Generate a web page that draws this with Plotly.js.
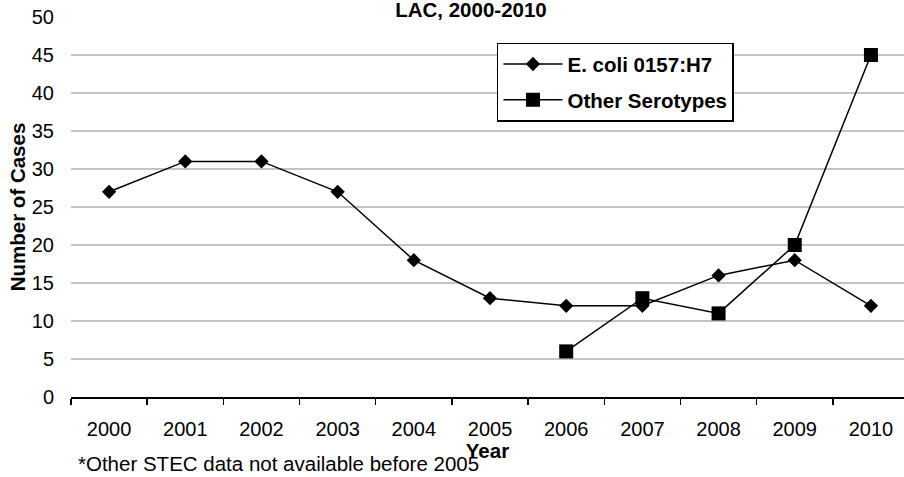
<!DOCTYPE html>
<html>
<head>
<meta charset="utf-8">
<script src="https://cdn.plot.ly/plotly-3.0.1.min.js"></script>
<style>html,body{margin:0;padding:0;background:#fff;overflow:hidden}</style>
</head>
<body>
<div id="chart" style="width:904px;height:477px"></div>
<script>
const years = ["2000","2001","2002","2003","2004","2005","2006","2007","2008","2009","2010"];
const ecoliValues = [27, 31, 31, 27, 18, 13, 12, 12, 16, 18, 12];
const otherYears = ["2006","2007","2008","2009","2010"];
const otherValues = [6, 13, 11, 20, 45];
const seriesNames = ["E. coli 0157:H7", "Other Serotypes"];
const chartTitle = "LAC, 2000-2010";
const xTitle = "Year";
const yTitle = "Number of Cases";
const footnote = "*Other STEC data not available before 2005";

const FONT = "Arial, 'Liberation Sans', sans-serif";

const traces = [
  {
    x: years, y: ecoliValues, name: seriesNames[0], type: "scatter", mode: "lines+markers",
    line: {color: "#000", width: 1.5},
    marker: {symbol: "diamond", size: 11, color: "#000"},
    legendgroup: "a"
  },
  {
    x: otherYears, y: otherValues, name: seriesNames[1], type: "scatter", mode: "lines+markers",
    line: {color: "#000", width: 1.5},
    marker: {symbol: "square", size: 14, color: "#000"},
    legendgroup: "b"
  }
];

const layout = {
  width: 904, height: 477,
  margin: {l: 71, r: 0, t: 17, b: 80},
  paper_bgcolor: "#fff", plot_bgcolor: "#fff",
  font: {family: FONT, size: 20, color: "#000"},
  title: {
    text: chartTitle, font: {family: FONT, size: 20.5, weight: "bold", color: "#000"},
    xref: "container", x: 0.521, xanchor: "center",
    yref: "container", y: 0.979, yanchor: "middle"
  },
  xaxis: {
    type: "category", categoryorder: "array", categoryarray: years,
    range: [-0.5, 10.434], tickson: "boundaries",
    ticks: "outside", ticklen: 6, tickwidth: 1.5, tickcolor: "#000",
    showline: true, linecolor: "#000", linewidth: 1.5,
    showgrid: false, zeroline: false,
    tickfont: {family: FONT, size: 20, color: "#000"},
    ticklabelstandoff: 13,
    title: {text: xTitle, font: {family: FONT, size: 20.5, weight: "bold", color: "#000"}, standoff: 0}
  },
  yaxis: {
    range: [0, 50], dtick: 5, tick0: 0,
    showline: false, zeroline: false, ticks: "",
    showgrid: true, gridcolor: "#c4c4c4", gridwidth: 1.3,
    tickfont: {family: FONT, size: 20, color: "#000"},
    ticklabelstandoff: 16,
    title: {text: yTitle, font: {family: FONT, size: 20.5, weight: "bold", color: "#000"}, standoff: 0}
  },
  showlegend: true,
  legend: {
    x: 0.5114, y: 0.9324, xanchor: "left", yanchor: "top",
    bgcolor: "#fff", bordercolor: "#000", borderwidth: 1.5,
    font: {family: FONT, size: 20.5, weight: "bold", color: "#000"},
    traceorder: "grouped", tracegroupgap: 6, itemwidth: 59,
    entrywidth: 178, entrywidthmode: "pixels"
  },
  annotations: [
    {
      text: footnote, showarrow: false,
      xref: "paper", yref: "paper", x: 0.006, y: -0.1737,
      xanchor: "left", yanchor: "middle",
      font: {family: FONT, size: 20.5, color: "#000"}
    }
  ]
};

Plotly.newPlot("chart", traces, layout, {displayModeBar: false, staticPlot: true});
</script>
</body>
</html>
